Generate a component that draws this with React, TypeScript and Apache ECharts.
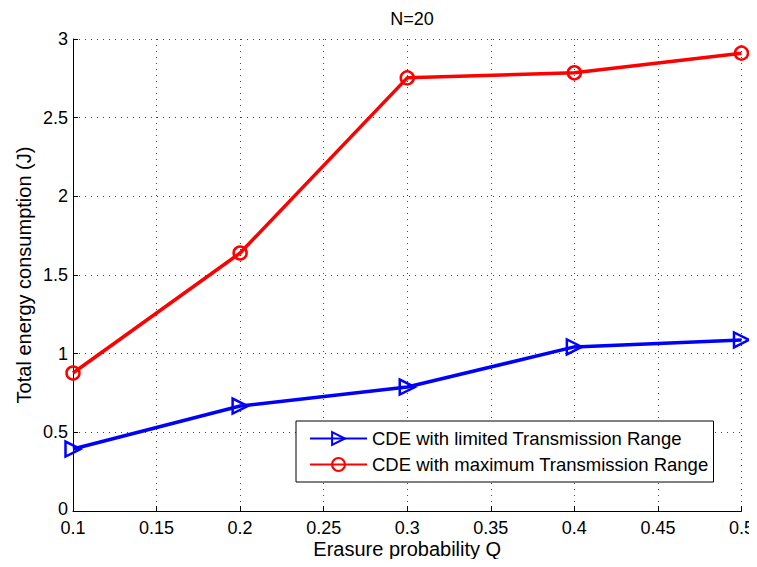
import React, { useEffect, useRef } from "react";
import * as echarts from "echarts";

const xValues = [0.1, 0.2, 0.3, 0.4, 0.5];
const limitedRange = [0.394, 0.667, 0.788, 1.043, 1.087];
const maximumRange = [0.877, 1.64, 2.753, 2.785, 2.91];
const seriesNames = [
  "CDE with limited Transmission Range",
  "CDE with maximum Transmission Range",
];

export default function App() {
  const ref = useRef<HTMLDivElement>(null);
  useEffect(() => {
    if (!ref.current) return;
    const chart = echarts.init(ref.current, undefined, { renderer: "svg" });
    const font = "Liberation Sans, Arial, sans-serif";
    chart.setOption({
      animation: false,
      backgroundColor: "#fff",
      textStyle: { fontFamily: font },
      title: {
        text: "N=20",
        left: 407,
        textAlign: "center",
        top: 5,
        textStyle: { fontFamily: font, fontSize: 18, fontWeight: "normal", color: "#000" },
      },
      grid: { left: 73, right: 15, top: 39, bottom: 56 },
      legend: {
        left: 296,
        top: 421,
        orient: "vertical",
        backgroundColor: "#fff",
        borderColor: "#000",
        borderWidth: 1,
        borderRadius: 0,
        padding: [8, 5, 8, 13],
        itemGap: 7,
        itemWidth: 57,
        itemHeight: 16,
        textStyle: { fontFamily: font, fontSize: 18.5, color: "#000" },
      },
      xAxis: {
        type: "value",
        min: 0.1,
        max: 0.5,
        interval: 0.05,
        name: "Erasure probability Q",
        nameLocation: "middle",
        nameGap: 28,
        nameMoveOverlap: false,
        nameTextStyle: { fontFamily: font, fontSize: 20, lineHeight: 20, color: "#000" },
        axisLine: { show: true, onZero: false, lineStyle: { color: "#000", width: 1 } },
        axisTick: { show: true, inside: true, length: 5, lineStyle: { color: "#000" } },
        axisLabel: {
          color: "#000",
          fontSize: 18,
          lineHeight: 14,
          fontFamily: font,
          margin: 10,
          formatter: (v: number) => String(Math.round(v * 100) / 100),
        },
        splitLine: { show: true, lineStyle: { color: "#444", type: [1, 5], width: 1 } },
      },
      yAxis: {
        type: "value",
        min: 0,
        max: 3,
        interval: 0.5,
        name: "Total energy consumption (J)",
        nameLocation: "middle",
        nameGap: 39,
        nameMoveOverlap: false,
        nameTextStyle: { fontFamily: font, fontSize: 20, color: "#000" },
        axisLine: { show: true, lineStyle: { color: "#000", width: 1 } },
        axisTick: { show: true, inside: true, length: 5, lineStyle: { color: "#000" } },
        axisLabel: {
          color: "#000",
          fontSize: 18,
          lineHeight: 14,
          fontFamily: font,
          margin: 5,
          formatter: (v: number) => (v === 0 ? "{z|0}" : String(v)),
          rich: {
            z: { fontSize: 18, lineHeight: 14, fontFamily: font, color: "#000", padding: [0, 0, 5, 0] },
          },
        },
        splitLine: { show: true, lineStyle: { color: "#444", type: [1, 5], width: 1 } },
      },
      series: [
        {
          name: seriesNames[0],
          type: "line",
          data: xValues.map((x, i) => [x, limitedRange[i]]),
          symbol: "triangle",
          symbolRotate: -90,
          symbolSize: 15,
          showAllSymbol: true,
          color: "#0000ff",
          lineStyle: { color: "#0000ff", width: 3.5 },
          itemStyle: { color: "rgba(255,255,255,0)", borderColor: "#0000ff", borderWidth: 2.5 },
          z: 3,
        },
        {
          name: seriesNames[1],
          type: "line",
          data: xValues.map((x, i) => [x, maximumRange[i]]),
          symbol: "circle",
          symbolSize: 13,
          color: "#ff0000",
          lineStyle: { color: "#ff0000", width: 3.5 },
          itemStyle: { color: "rgba(255,255,255,0)", borderColor: "#ff0000", borderWidth: 2.5 },
          z: 3,
        },
      ],
    });
    return () => chart.dispose();
  }, []);
  return <div ref={ref} style={{ width: 757, height: 567, margin: -8 }} />;
}
